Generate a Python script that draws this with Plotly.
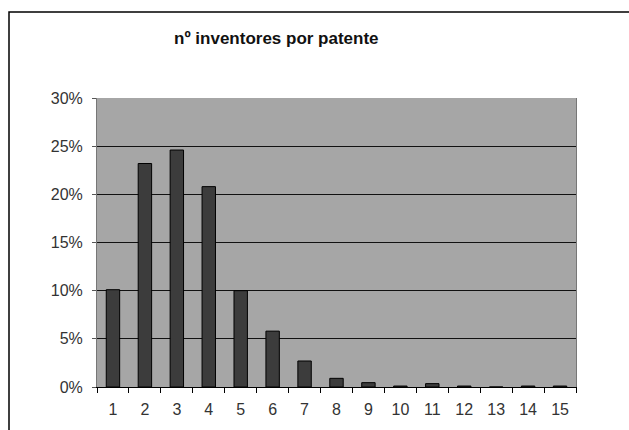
import plotly.graph_objects as go

categories = [str(i) for i in range(1, 16)]
values = [10.1, 23.2, 24.6, 20.8, 10.0, 5.8, 2.7, 0.9, 0.45, 0.1, 0.35, 0.1, 0.0, 0.1, 0.1]
y_ticks = [0, 5, 10, 15, 20, 25, 30]
y_labels = [f"{v}%" for v in y_ticks]
title = "nº inventores por patente"

# page pixel geometry (body margin removed via post_script)
PL, PR, PT, PB = 97, 576, 98, 387
W, H = 629, 430
pw, ph = PR - PL, PB - PT

def px_x(x):
    return (x - PL) / pw

def px_y(y):
    return (PB - y) / ph

fig = go.Figure(go.Bar(
    x=categories, y=values,
    marker=dict(color="#3c3c3c", line=dict(color="#000000", width=1)),
    width=0.42,
))

fig.update_layout(
    width=W, height=H,
    margin=dict(l=PL, r=W - PR, t=PT, b=H - PB, autoexpand=False),
    paper_bgcolor="white", plot_bgcolor="#a6a6a6",
    showlegend=False,
    font=dict(family="Liberation Sans, Arial", size=16, color="#333"),
    annotations=[dict(text="<b>" + title + "</b>", x=px_x(276), y=px_y(39),
                      xref="paper", yref="paper", xanchor="center", yanchor="middle",
                      showarrow=False, font=dict(size=17, color="#111"))],
)

fig.update_xaxes(
    type="category", tickson="boundaries", ticks="outside", ticklen=5, tickcolor="#000",
    showgrid=False, showline=True, linecolor="#000", linewidth=1, mirror=False,
    tickfont=dict(size=16, color="#333"), ticklabelstandoff=8, automargin=False,
)
fig.update_yaxes(
    range=[0, 30], tickvals=y_ticks, ticktext=y_labels,
    ticks="outside", ticklen=4, tickcolor="#555",
    showgrid=True, gridcolor="#111", gridwidth=1,
    showline=True, linecolor="#777", linewidth=1, mirror=True,
    zeroline=False, tickfont=dict(size=16, color="#333"), ticklabelstandoff=6,
    automargin=False,
)

x0, y0, x1, y1 = px_x(9), px_y(520), px_x(700), px_y(12)
fig.add_shape(type="path", xref="paper", yref="paper",
              path=f"M {x0} {y0} L {x0} {y1} L {x1} {y1}",
              line=dict(color="#000", width=1.5), layer="below")

fig.write_html(
    "out.html",
    config={"displayModeBar": False},
    post_script="document.body.style.margin='0';document.body.style.overflow='hidden';",
)
